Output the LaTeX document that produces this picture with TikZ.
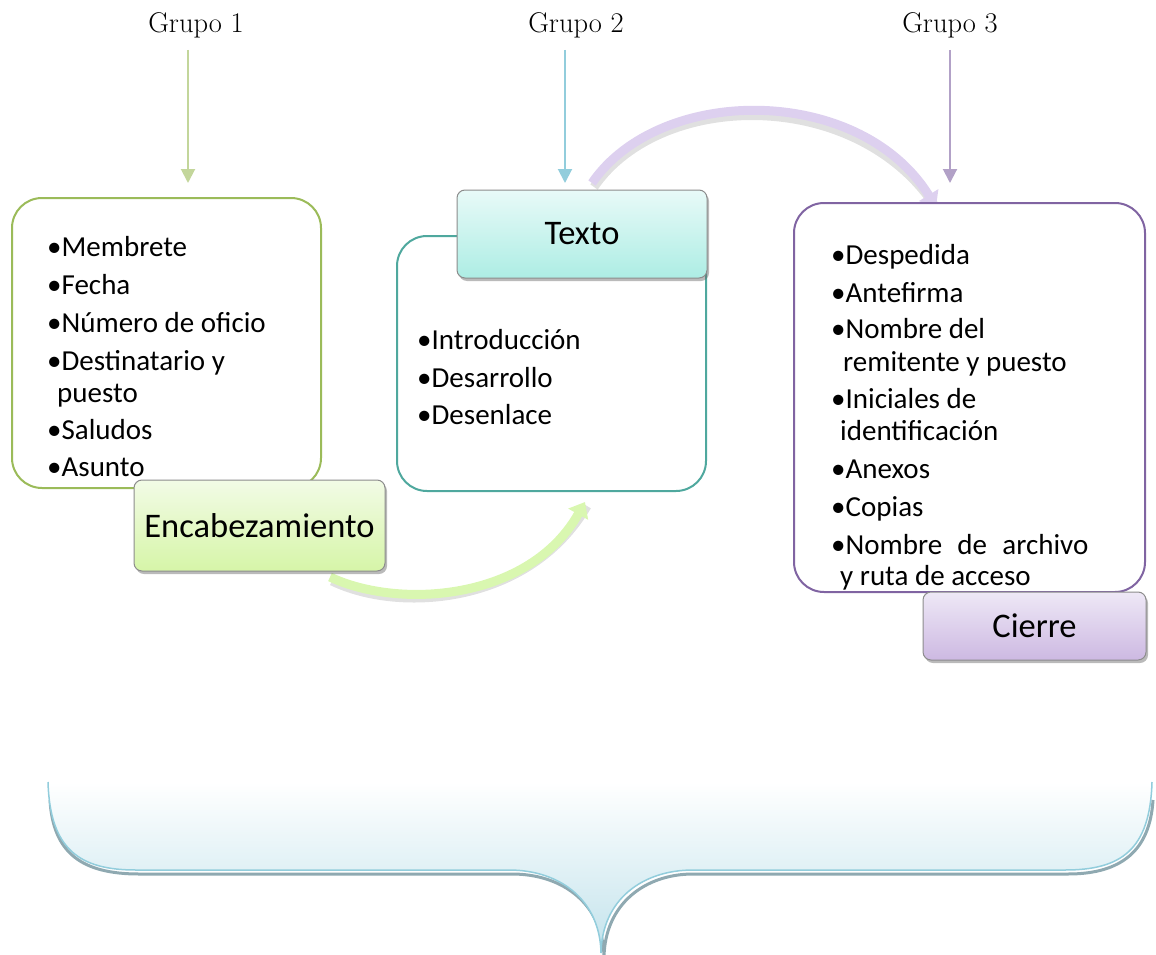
\documentclass[tikz,border=0pt]{standalone}
\usepackage{fontspec}
\newfontfamily\carl{Carlito}
\usetikzlibrary{shadows,arrows.meta}
\definecolor{gborder}{HTML}{9BBB59}
\definecolor{tborder}{HTML}{4FA89E}
\definecolor{pborder}{HTML}{8064A2}
\definecolor{garr}{HTML}{C3D69B}
\definecolor{barr}{HTML}{92CDDC}
\definecolor{parr}{HTML}{B2A1C7}
\definecolor{gtop}{HTML}{F2FBE6}
\definecolor{gbot}{HTML}{D6F5A8}
\definecolor{ttop}{HTML}{E8FAF8}
\definecolor{tbot}{HTML}{ADEDE4}
\definecolor{ptop}{HTML}{EEE8F6}
\definecolor{pbot}{HTML}{CDB9E2}
\definecolor{gcurve}{HTML}{D9F7B0}
\definecolor{pcurve}{HTML}{DDD0EF}
\definecolor{bracefill}{HTML}{C3E3EC}
\definecolor{braceshadow}{HTML}{8FA9B1}
\begin{document}
\begin{tikzpicture}[x=1pt,y=-1pt,
  grp/.style={font=\fontsize{28.5}{32}\selectfont, anchor=base, inner sep=0pt},
  item/.style={font=\carl\fontsize{29}{32}\selectfont, anchor=base west, inner sep=0pt},
  mainbox/.style={draw, line width=2pt, rounded corners=30pt, fill=white, inner sep=0pt},
  labbox/.style={draw=black!45, line width=1pt, rounded corners=8pt, inner sep=0pt,
     font=\carl\fontsize{34.5}{38}\selectfont,
     drop shadow={shadow xshift=2pt, shadow yshift=-3pt, fill=black!60, opacity=0.45}},
  varrow/.style={line width=2pt, -{Triangle[width=14pt,length=14pt]}},
  carrow/.style={line width=9pt, -{Triangle[width=22pt,length=14pt]}},
  cshadow/.style={line width=9pt, draw=black!35, opacity=0.35},
]
\useasboundingbox (0,0) rectangle (1156,955);

% group labels
\node[grp] (g1) at (196,33) {Grupo 1};
\node[grp] (g2) at (576,33) {Grupo 2};
\node[grp] (g3) at (950,33) {Grupo 3};
\coordinate (g1s) at (188,50); \coordinate (g1e) at (188,183);
\coordinate (g2s) at (565,50); \coordinate (g2e) at (565,183);
\coordinate (g3s) at (950,50); \coordinate (g3e) at (950,183);
\draw[varrow, garr] (g1s) -- (g1e);
\draw[varrow, barr] (g2s) -- (g2e);
\draw[varrow, parr] (g3s) -- (g3e);

% curved arrows
\coordinate (c1a) at (330,577);
\coordinate (c1b) at (585,502);
\coordinate (c2a) at (592,183);
\coordinate (c2b) at (936,207);
\draw[cshadow] ([shift={(2,4)}]c1a) .. controls (400,614) and (530,604) .. ([shift={(2,4)}]c1b);
\draw[carrow, gcurve] (c1a) .. controls (400,610) and (530,600) .. (c1b);
\draw[cshadow] ([shift={(2,4)}]c2a) .. controls (662,88) and (862,88) .. ([shift={(2,4)}]c2b);
\draw[carrow, pcurve] (c2a) .. controls (660,84) and (860,84) .. (c2b);

% main boxes
\node[mainbox, draw=gborder, minimum width=309pt, minimum height=290pt] (b1) at (166.5,343) {};
\node[mainbox, draw=tborder, minimum width=309pt, minimum height=255pt] (b2) at (551.5,363.5) {};
\node[mainbox, draw=pborder, minimum width=351pt, minimum height=389pt] (b3) at (969.5,397.5) {};

% label boxes
\node[labbox, top color=gtop, bottom color=gbot, minimum width=251pt, minimum height=91pt] (l1) at (259.5,525.5) {Encabezamiento};
\node[labbox, top color=ttop, bottom color=tbot, minimum width=250pt, minimum height=88pt] (l2) at (582,234) {Texto};
\node[labbox, top color=ptop, bottom color=pbot, minimum width=223pt, minimum height=68pt] (l3) at (1034.5,626) {Cierre};

% box 1 items
\node[item] (i11) at (47,256) {•Membrete};
\node[item] (i12) at (47,294) {•Fecha};
\node[item] (i13) at (47,332) {•Número de oficio};
\node[item] (i14) at (47,370) {•Destinatario y};
\node[item] (i14b) at (57,402) {puesto};
\node[item] (i15) at (47,439) {•Saludos};
\node[item] (i16) at (47,476) {•Asunto};

% box 2 items
\node[item] (i21) at (417,349) {•Introducción};
\node[item] (i22) at (417,387) {•Desarrollo};
\node[item] (i23) at (417,424) {•Desenlace};

% box 3 items
\node[item] (i31) at (831,264) {•Despedida};
\node[item] (i32) at (831,302) {•Antefirma};
\node[item] (i33) at (831,338) {•Nombre del};
\node[item] (i33b) at (843,371) {remitente y puesto};
\node[item] (i34) at (831,408) {•Iniciales de};
\node[item] (i34b) at (840,440) {identificación};
\node[item] (i35) at (831,478) {•Anexos};
\node[item] (i36) at (831,516) {•Copias};
\node[item] (i37) at (831,554) {•Nombre\hspace{0.3em} de\hspace{0.3em} archivo};
\node[item] (i37b) at (840,585) {y ruta de acceso};

% brace
\coordinate (bl) at (48,782);
\coordinate (br) at (1152,782);
\coordinate (bt) at (601,953);
\draw[line width=3pt, braceshadow] (50,800) .. controls (53,853) and (82,874) .. (139,874) -- (512,874)
   .. controls (563,874) and (603,904) .. (604,957)
   .. controls (605,904) and (645,874) .. (693,874) -- (1068,874)
   .. controls (1122,874) and (1150,850) .. (1153,800);
\fill[top color=white, bottom color=bracefill] (bl) .. controls (50,850) and (80,870) .. (136,870) -- (509,870)
   .. controls (560,870) and (600,900) .. (bt)
   .. controls (602,900) and (642,870) .. (693,870) -- (1065,870)
   .. controls (1121,870) and (1150,850) .. (br) -- cycle;
\draw[line width=1.5pt, barr] (bl) .. controls (50,850) and (80,870) .. (136,870) -- (509,870)
   .. controls (560,870) and (600,900) .. (bt)
   .. controls (602,900) and (642,870) .. (693,870) -- (1065,870)
   .. controls (1121,870) and (1150,850) .. (br);
\end{tikzpicture}
\end{document}
